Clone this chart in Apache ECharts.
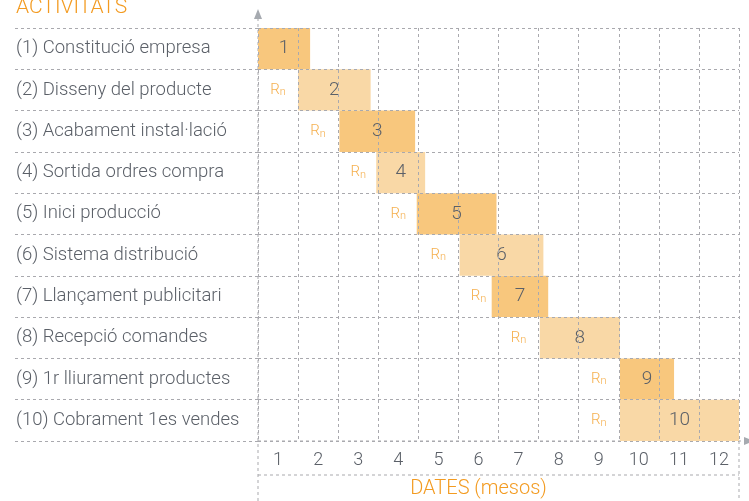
<!DOCTYPE html>
<html>
<head>
<meta charset="utf-8">
<script src="https://cdn.jsdelivr.net/npm/echarts@6/dist/echarts.min.js"></script>
<style>html,body{margin:0;padding:0;background:#fff;}#c{width:749px;height:501px;}</style>
</head>
<body>
<div id="c"></div>
<script>
const activities = ['(1) Constitució empresa','(2) Disseny del producte','(3) Acabament instal·lació','(4) Sortida ordres compra','(5) Inici producció','(6) Sistema distribució','(7) Llançament publicitari','(8) Recepció comandes','(9) 1r lliurament productes','(10) Cobrament 1es vendes'];
const barNumbers = ['1','2','3','4','5','6','7','8','9','10'];
const startMonth = [0, 1.0, 2.03, 2.95, 3.96, 5.03, 5.83, 7.03, 9.03, 9.03];
const endMonth   = [1.3, 2.81, 3.92, 4.17, 5.95, 7.12, 7.24, 9.03, 10.38, 12.0];
const rnMonth    = [null, 0.5, 1.5, 2.5, 3.5, 4.5, 5.5, 6.5, 8.5, 8.5];
const monthLabels = ['1','2','3','4','5','6','7','8','9','10','11','12'];
const titleText = 'ACTIVITATS';
const axisTitle = 'DATES (mesos)';

const DARK = '#F8C77D', LIGHT = '#F9D8A6', ORANGE = '#F39B21', TXT = '#5B6068', GRID = '#A9A9AE';
const FONT = 'Roboto';
const dash = [3, 3];

const chart = echarts.init(document.getElementById('c'));
const L = 258, R = 10, T = 28, B = 60;
const W = 749, H = 501;
const dashLine = (x1,y1,x2,y2) => ({type:'line', silent:true, shape:{x1,y1,x2,y2}, style:{stroke:GRID, lineWidth:1, lineDash:dash}});

chart.setOption({
  animation: false,
  title: {text: titleText, left: 11, top: -8, textStyle:{color: ORANGE, fontSize: 21, fontWeight: 300, fontFamily: FONT}},
  grid: [
    {left: L, right: R, top: T, bottom: B, containLabel:false, outerBoundsMode:'none'},
    {left: 15, width: L - 15, top: T, bottom: B, containLabel:false, outerBoundsMode:'none'}
  ],
  xAxis: [
    {type:'value', gridIndex:0, min:0, max:12, interval:1, z:5, axisLabel:{show:false}, axisTick:{show:false}, axisLine:{show:false},
     splitLine:{show:true, lineStyle:{color:GRID, type:dash}}},
    {type:'category', gridIndex:0, data: monthLabels, position:'bottom', axisLine:{show:false}, axisTick:{show:false},
     axisLabel:{color:TXT, fontSize:18, fontFamily:FONT, fontWeight:300, margin:10},
     name: axisTitle, nameLocation:'middle', nameGap:38, nameTextStyle:{color:ORANGE, fontSize:20, fontFamily:FONT, fontWeight:300, padding:[0,40,0,0]}},
    {type:'value', gridIndex:1, show:false, min:0, max:1}
  ],
  yAxis: [
    {type:'category', gridIndex:0, data: activities, inverse:true, z:5, axisLabel:{show:false}, axisTick:{show:false}, axisLine:{show:false},
     splitLine:{show:true, lineStyle:{color:GRID, type:dash}}},
    {type:'category', gridIndex:1, data: activities, inverse:true, axisTick:{show:false}, axisLine:{show:false},
     axisLabel:{inside:true, margin:1, color:TXT, fontSize:18.5, fontFamily:FONT, fontWeight:300, padding:[3,0,0,0]},
     splitLine:{show:true, lineStyle:{color:GRID, type:dash}}}
  ],
  series: [
    {type:'bar', xAxisIndex:0, yAxisIndex:0, stack:'g', silent:true, barWidth:'100%',
     itemStyle:{color:'transparent'}, data: startMonth},
    {type:'bar', xAxisIndex:0, yAxisIndex:0, stack:'g', barWidth:'100%',
     data: endMonth.map((e,i)=>({value: +(e - startMonth[i]).toFixed(3), itemStyle:{color: i % 2 === 0 ? DARK : LIGHT}})),
     label:{show:true, position:'inside', formatter: p => barNumbers[p.dataIndex], color:TXT, fontSize:19, fontFamily:FONT, fontWeight:300}},
    {type:'scatter', xAxisIndex:0, yAxisIndex:0, symbolSize:2, itemStyle:{color:'rgba(0,0,0,0)'},
     data: rnMonth.map((x,i)=> x === null ? null : [x, i]).filter(d=>d),
     label:{show:true, position:'inside', formatter:'{r|R}{n|n}',
       rich:{r:{fontSize:15, color:ORANGE, fontFamily:FONT, fontWeight:300}, n:{fontSize:11, color:ORANGE, fontFamily:FONT, fontWeight:300, padding:[5,0,0,0]}}},
     z: 6}
  ],
  graphic: [
    dashLine(L, H, L, 16),
    {type:'polygon', silent:true, shape:{points:[[L-4,19],[L+4,19],[L,9]]}, style:{fill:'#A6AAB0'}},
    dashLine(L, H - B, W - 3, H - B),
    {type:'polygon', silent:true, shape:{points:[[W-5,H-B-4],[W-5,H-B+4],[W+5,H-B]]}, style:{fill:'#A6AAB0'}},
    dashLine(W - R, H - B, W - R, H),
    dashLine(L, H - B + 34, W - R, H - B + 34)
  ]
});
</script>
</body>
</html>
